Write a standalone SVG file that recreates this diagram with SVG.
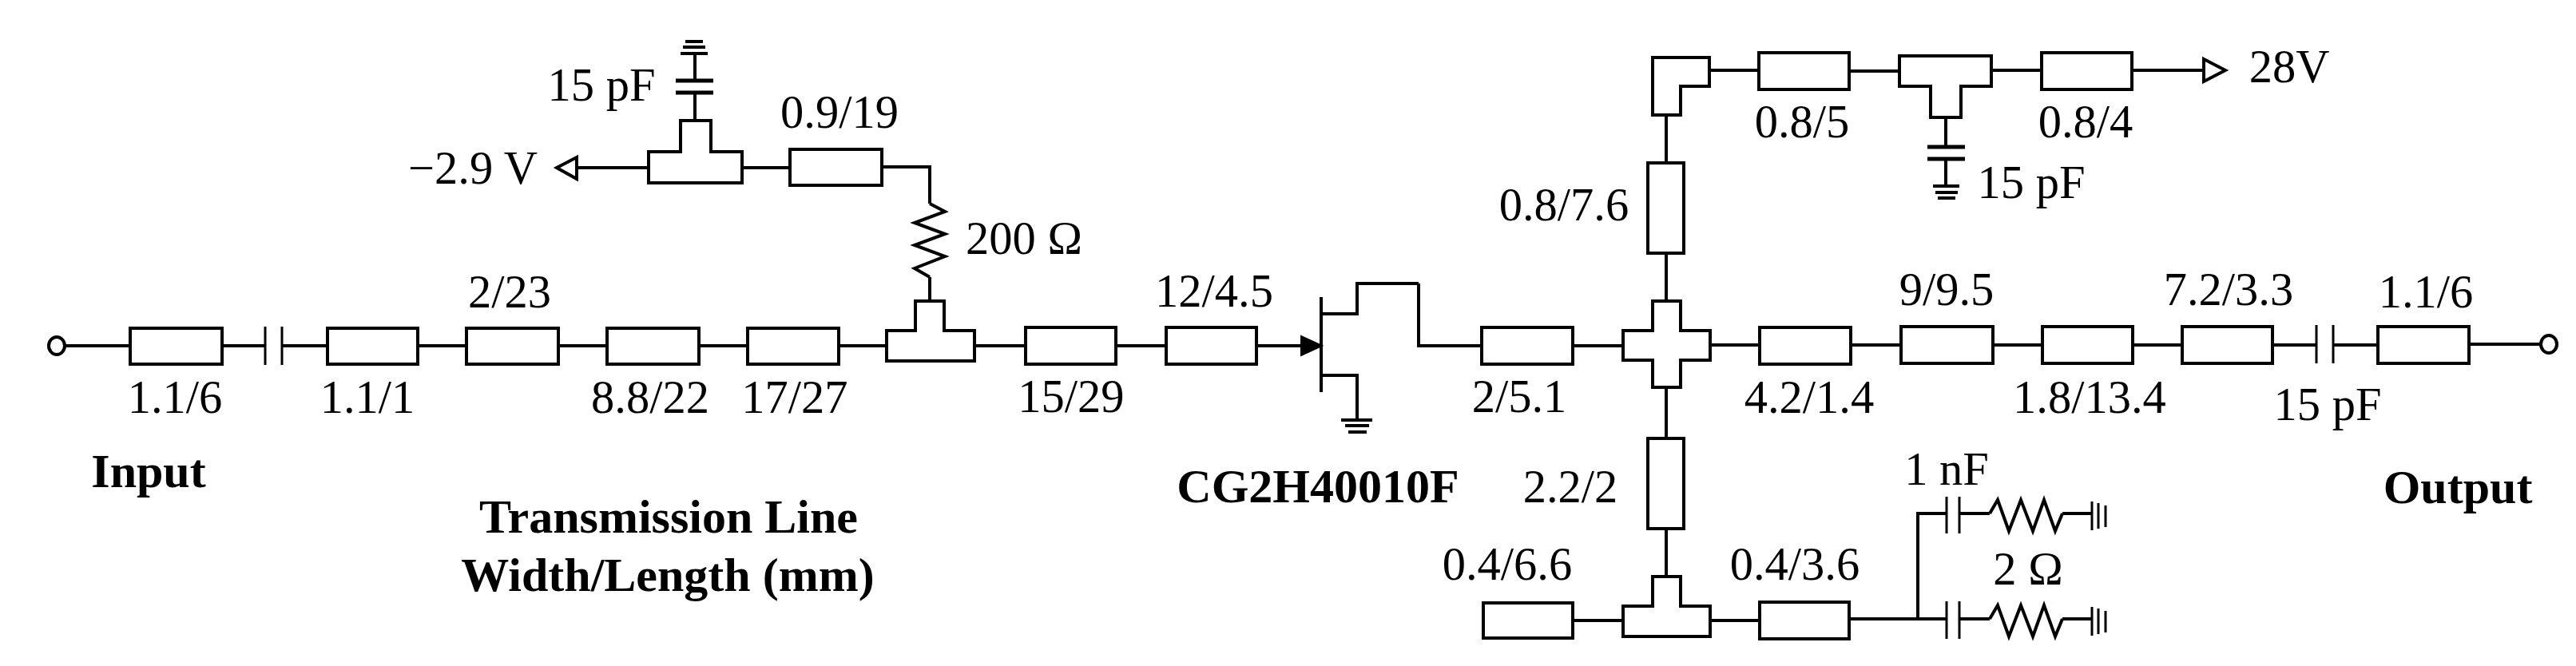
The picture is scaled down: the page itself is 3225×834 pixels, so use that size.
<svg xmlns="http://www.w3.org/2000/svg" width="3225" height="834" viewBox="0 0 3225 834">
<style>
text{font-family:"Liberation Serif","Times New Roman",serif;font-size:58.5px;fill:#000;text-anchor:middle}
.b{font-weight:bold;font-size:60px}
.s,.e{fill:none;stroke:#000;stroke-width:4;stroke-linejoin:miter}
.e{fill:#fff}
.t{stroke-width:3}
.p{stroke-width:5}
.f{fill:#000;stroke:#000;stroke-width:2}
</style>
<rect width="3225" height="834" fill="#fff"/>
<g id="connectors">
<path class="s" d="M82 433H163M278 433H332M353 433H410M523 433H584M699 433H760M875 433H936M1050 433H1110M1220 433H1284M1397 433H1460M1573 433H1632"/>
<path class="s" d="M1776 355V433H1855M1969 433H2032"/>
<path class="s" d="M722 210H812M929 210H989M1104 209H1164V255"/>
<path class="s" d="M870 67V101M870 116V151"/>
<path class="s" d="M1164 347V377"/>
<path class="s" d="M2086 144V204M2086 317V377M2086 485V549M2086 662V722"/>
<path class="s" d="M2140 88H2202M2315 89H2378M2493 88H2556M2669 88H2759"/>
<path class="s" d="M2436 147V184M2436 199V233"/>
<path class="s" d="M2141 432H2203M2317 432H2380M2495 432H2557M2670 432H2732M2845 432H2900M2921 432H2977M3091 431H3180"/>
<path class="s" d="M1969 777H2032M2141 777H2203M2315 775H2437M2401 775V643H2437"/>
<path class="s" d="M2453 643H2491M2582 643H2619M2453 775H2491M2582 775H2619"/>
</g>
<g id="input"><ellipse class="e" cx="71" cy="433" rx="10" ry="11"/></g>
<g id="output"><ellipse class="e" cx="3191" cy="431" rx="10" ry="11"/></g>
<g id="tl-input"><rect class="e" x="163" y="411" width="115" height="45"/></g>
<g id="c-input"><path class="s t" d="M332 409V457M353 409V457"/></g>
<g id="tl-1"><rect class="e" x="410" y="411" width="113" height="45"/></g>
<g id="tl-2"><rect class="e" x="584" y="411" width="115" height="45"/></g>
<g id="tl-3"><rect class="e" x="760" y="411" width="115" height="45"/></g>
<g id="tl-4"><rect class="e" x="936" y="411" width="114" height="45"/></g>
<g id="tee-gate"><path class="e" d="M1110 414H1146V377H1182V414H1220V452H1110Z"/></g>
<g id="tl-5"><rect class="e" x="1284" y="410" width="113" height="46"/></g>
<g id="tl-6"><rect class="e" x="1460" y="410" width="113" height="46"/></g>
<g id="tee-bias"><path class="e" d="M812 190H852V151H890V190H929V229H812Z"/></g>
<g id="c-gate"><path class="s p" d="M846 101H893M846 116H893"/><path class="s" d="M852 67H886M855 59H883M858 52H880"/></g>
<g id="v-gate"><path class="e" d="M697 210L722 197V224Z"/></g>
<g id="tl-7"><rect class="e" x="989" y="187" width="115" height="45"/></g>
<g id="r-gate"><path class="s" d="M1164 255L1183 265L1145 279L1183 293L1145 307L1183 321L1145 336L1164 347"/></g>
<g id="transistor">
<path class="f" d="M1655 433L1629 421V445Z"/>
<path class="s" d="M1654 372V491M1654 393H1699V355H1776M1654 470H1699V525"/>
<path class="s" d="M1679 526H1718M1684 533H1714M1688 541H1711"/>
</g>
<g id="tl-8"><rect class="e" x="1855" y="410" width="114" height="46"/></g>
<g id="cross"><path class="e" d="M2032 414H2069V377H2104V414H2141V451H2104V485H2069V451H2032Z"/></g>
<g id="tl-9"><rect class="e" x="2063" y="204" width="45" height="113"/></g>
<g id="bend"><path class="e" d="M2069 72H2140V108H2104V144H2069Z"/></g>
<g id="tl-10"><rect class="e" x="2202" y="66" width="113" height="46"/></g>
<g id="tee-drain"><path class="e" d="M2378 70H2493V108H2455V147H2417V108H2378Z"/></g>
<g id="tl-11"><rect class="e" x="2556" y="66" width="113" height="46"/></g>
<g id="v-drain"><path class="e" d="M2786 88L2759 74V102Z"/></g>
<g id="c-drain"><path class="s p" d="M2413 184H2460M2413 199H2460"/><path class="s" d="M2420 233H2453M2423 241H2451M2426 248H2448"/></g>
<g id="tl-12"><rect class="e" x="2203" y="410" width="114" height="46"/></g>
<g id="tl-13"><rect class="e" x="2380" y="409" width="115" height="46"/></g>
<g id="tl-14"><rect class="e" x="2557" y="409" width="113" height="46"/></g>
<g id="tl-15"><rect class="e" x="2732" y="409" width="113" height="46"/></g>
<g id="c-output"><path class="s t" d="M2900 407V455M2921 407V455"/></g>
<g id="tl-16"><rect class="e" x="2977" y="409" width="114" height="46"/></g>
<g id="tl-17"><rect class="e" x="2063" y="549" width="45" height="113"/></g>
<g id="tee-low"><path class="e" d="M2032 759H2069V722H2104V759H2141V797H2032Z"/></g>
<g id="tl-18"><rect class="e" x="1857" y="755" width="112" height="44"/></g>
<g id="tl-19"><rect class="e" x="2203" y="754" width="112" height="46"/></g>
<g id="rc-upper"><path class="s t" d="M2437 622V668M2453 622V668"/><path class="s" d="M2491 643L2501 626L2515 665L2530 626L2545 665L2559 626L2573 665L2582 643"/><path class="s t" d="M2619 628V664M2627 630V662M2636 633V660"/></g>
<g id="rc-lower"><path class="s t" d="M2437 753V800M2453 753V800"/><path class="s" d="M2491 775L2501 758L2515 797L2530 758L2545 797L2559 758L2573 797L2582 775"/><path class="s t" d="M2619 760V796M2627 762V794M2636 765V792"/></g>
<g id="labels">
<text x="219" y="517">1.1/6</text>
<text x="460" y="517">1.1/1</text>
<text x="638" y="385">2/23</text>
<text x="814" y="517">8.8/22</text>
<text x="995" y="517">17/27</text>
<text x="1341" y="516">15/29</text>
<text x="1520" y="384">12/4.5</text>
<text x="1902" y="516">2/5.1</text>
<text x="753" y="126">15 pF</text>
<text x="592" y="230">−2.9 V</text>
<text x="1051" y="160">0.9/19</text>
<text x="1282" y="318">200 Ω</text>
<text x="1958" y="276">0.8/7.6</text>
<text x="2256" y="172">0.8/5</text>
<text x="2611" y="172">0.8/4</text>
<text x="2543" y="248">15 pF</text>
<text x="2866" y="103">28V</text>
<text x="2437" y="382">9/9.5</text>
<text x="2790" y="382">7.2/3.3</text>
<text x="3037" y="385">1.1/6</text>
<text x="2265" y="517">4.2/1.4</text>
<text x="2616" y="517">1.8/13.4</text>
<text x="2914" y="526">15 pF</text>
<text x="1966" y="629">2.2/2</text>
<text x="1887" y="726">0.4/6.6</text>
<text x="2247" y="726">0.4/3.6</text>
<text x="2437" y="607">1 nF</text>
<text x="2539" y="732">2 Ω</text>
<text class="b" x="186" y="610">Input</text>
<text class="b" x="837" y="667">Transmission Line</text>
<text class="b" x="836" y="740">Width/Length (mm)</text>
<text class="b" x="1650" y="629">CG2H40010F</text>
<text class="b" x="3077" y="630">Output</text>
</g>
</svg>
